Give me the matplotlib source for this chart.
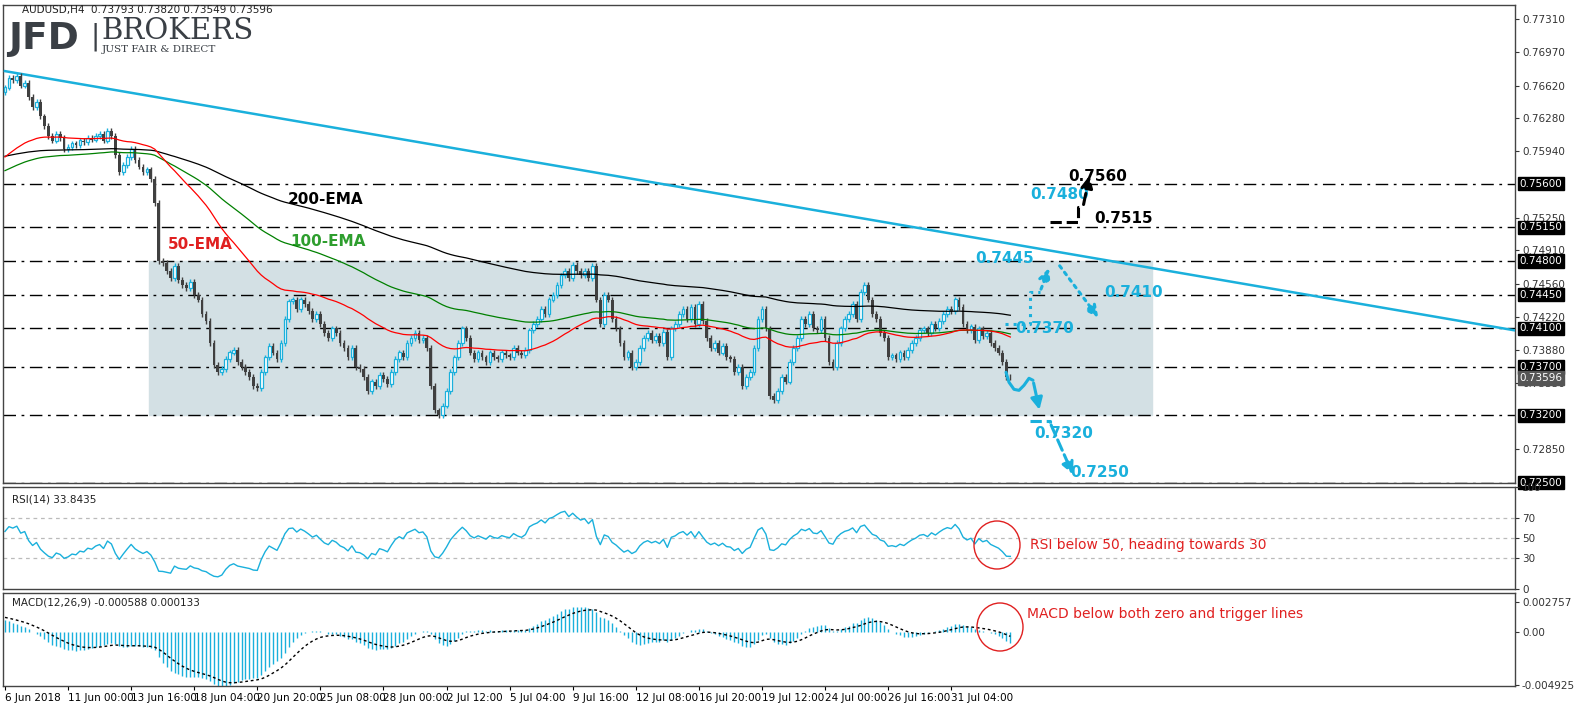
import numpy as np
import pandas as pd
import matplotlib
matplotlib.use("Agg")
import matplotlib.pyplot as plt
from matplotlib.patches import Ellipse, Rectangle
from matplotlib.transforms import blended_transform_factory as btf

closes = [
0.7660,0.7670,0.7668,0.7672,0.7662,0.7665,0.7650,0.7640,0.7645,0.7630,0.7620,0.7610,0.7605,0.7612,0.7608,0.7596,
0.7598,0.7602,0.7600,0.7605,0.7603,0.7608,0.7606,0.7610,0.7612,0.7605,0.7615,0.7610,0.7590,0.7572,0.7580,0.7588,
0.7596,0.7585,0.7578,0.7572,0.7575,0.7565,0.7540,0.7480,0.7478,0.7470,0.7462,0.7475,0.7460,0.7455,0.7452,0.7458,
0.7445,0.7440,0.7425,0.7418,0.7395,0.7372,0.7365,0.7368,0.7378,0.7385,0.7388,0.7375,0.7370,0.7365,0.7360,0.7350,
0.7348,0.7365,0.7380,0.7392,0.7385,0.7378,0.7395,0.7420,0.7438,0.7440,0.7430,0.7440,0.7435,0.7428,0.7420,0.7425,
0.7415,0.7405,0.7400,0.7410,0.7405,0.7395,0.7390,0.7380,0.7390,0.7370,0.7368,0.7360,0.7345,0.7355,0.7350,0.7362,
0.7358,0.7352,0.7365,0.7378,0.7385,0.7380,0.7395,0.7400,0.7405,0.7398,0.7400,0.7390,0.7350,0.7325,0.7320,0.7330,
0.7345,0.7365,0.7380,0.7395,0.7410,0.7400,0.7385,0.7378,0.7385,0.7380,0.7375,0.7385,0.7380,0.7378,0.7385,0.7382,
0.7380,0.7390,0.7385,0.7382,0.7388,0.7408,0.7415,0.7420,0.7430,0.7425,0.7440,0.7445,0.7455,0.7465,0.7470,0.7462,
0.7476,0.7470,0.7465,0.7470,0.7462,0.7475,0.7440,0.7415,0.7445,0.7440,0.7420,0.7410,0.7395,0.7380,0.7385,0.7370,
0.7375,0.7390,0.7400,0.7405,0.7398,0.7402,0.7395,0.7406,0.7380,0.7410,0.7415,0.7425,0.7430,0.7420,0.7432,0.7415,
0.7435,0.7418,0.7400,0.7390,0.7395,0.7385,0.7392,0.7380,0.7378,0.7365,0.7370,0.7350,0.7360,0.7365,0.7390,0.7420,
0.7430,0.7410,0.7340,0.7336,0.7345,0.7360,0.7355,0.7375,0.7390,0.7400,0.7420,0.7415,0.7425,0.7410,0.7408,0.7420,
0.7400,0.7375,0.7370,0.7395,0.7410,0.7420,0.7425,0.7435,0.7420,0.7448,0.7455,0.7440,0.7425,0.7420,0.7405,0.7400,
0.7380,0.7382,0.7378,0.7385,0.7380,0.7388,0.7395,0.7400,0.7408,0.7410,0.7405,0.7415,0.7410,0.7418,0.7425,0.7430,
0.7428,0.7440,0.7432,0.7415,0.7408,0.7412,0.7398,0.7410,0.7402,0.7405,0.7395,0.7390,0.7385,0.7375,0.7360,0.73596]
first_open = 0.7655
wick = 0.0003
ema_seeds = {50: 0.7585, 100: 0.7572, 200: 0.7588}
macd_seeds = {"ema12": 0.7682, "ema26": 0.7668, "signal": 0.0014}
rsi_seeds = {"up": 0.00035, "down": 0.00030}
levels = [0.7560, 0.7515, 0.7480, 0.7445, 0.7410, 0.7370, 0.7320, 0.7250]
plain_ticks = [0.77310,0.76970,0.76620,0.76280,0.75940,0.75250,0.74910,0.74560,0.74220,0.73880,0.73530,0.72850]
date_labels = ["6 Jun 2018","11 Jun 00:00","13 Jun 16:00","18 Jun 04:00","20 Jun 20:00","25 Jun 08:00",
               "28 Jun 00:00","2 Jul 12:00","5 Jul 04:00","9 Jul 16:00","12 Jul 08:00","16 Jul 20:00",
               "19 Jul 12:00","24 Jul 00:00","26 Jul 16:00","31 Jul 04:00"]
trend = [(0, 0.7677), (383, 0.7408)]
range_box = (36.5, 291, 0.7320, 0.7480)

c = np.array(closes)
o = np.concatenate([[first_open], c[:-1]])
h = np.maximum(o, c) + wick
l = np.minimum(o, c) - wick
x = np.arange(len(c))

def ema(vals, n, seed):
    a = 2 / (n + 1); out = []; e = seed
    for v in vals:
        e = a * v + (1 - a) * e; out.append(e)
    return np.array(out)

def wilder(vals, seed):
    out = []; e = seed
    for v in vals:
        e = e + (v - e) / 14; out.append(e)
    return np.array(out)

d = np.diff(np.concatenate([[first_open], c]))
up = wilder(np.clip(d, 0, None), rsi_seeds["up"])
dn = wilder(np.clip(-d, 0, None), rsi_seeds["down"])
rsi = 100 - 100 / (1 + up / dn)
macd = ema(c, 12, macd_seeds["ema12"]) - ema(c, 26, macd_seeds["ema26"])
signal = ema(macd, 9, macd_seeds["signal"])

W, H = 1583, 705
fig = plt.figure(figsize=(W/100, H/100), dpi=100)
L, R = 3/W, 1512/W
ax = fig.add_axes([L, 1-483/H, R, 478/H])
ax_r = fig.add_axes([L, 1-589/H, R, 102/H])
ax_m = fig.add_axes([L, 1-686/H, R, 93/H])
XL = (-0.5, 383)
PPB = 1512 / (XL[1] - XL[0])
BLUE = "#1ab0dc"; GREY = "#404040"
for a in (ax, ax_r, ax_m):
    a.set_xlim(*XL)
    a.yaxis.tick_right()
    a.tick_params(axis="y", labelsize=7.5, length=3, colors="#333333", pad=2)
    a.set_xticks([])
    for sp in a.spines.values():
        sp.set_color("#444444"); sp.set_linewidth(1)

ax.set_ylim(0.72497, 0.77456)
ax.add_patch(Rectangle((range_box[0], range_box[2]), range_box[1]-range_box[0],
                       range_box[3]-range_box[2], color="#d3e0e4", zorder=0))
for lv in levels:
    ax.axhline(lv, color="black", lw=1, ls=(0, (9, 4, 2, 4)), zorder=1)
ax.plot([p[0] for p in trend], [p[1] for p in trend], color=BLUE, lw=1.8, zorder=3)
bull = c >= o
ax.vlines(x[bull], l[bull], h[bull], color=BLUE, lw=1, zorder=4)
ax.vlines(x[~bull], l[~bull], h[~bull], color=GREY, lw=1, zorder=4)
ax.bar(x[bull], (c-o)[bull] + 1e-5, bottom=o[bull], width=0.7, facecolor="white", edgecolor=BLUE, lw=0.9, zorder=5)
ax.bar(x[~bull], (o-c)[~bull], bottom=c[~bull], width=0.7, color=GREY, zorder=5)
ax.plot(x, ema(c, 200, ema_seeds[200]), color="black", lw=0.9, zorder=6)
ax.plot(x, ema(c, 100, ema_seeds[100]), color="green", lw=0.9, zorder=6)
ax.plot(x, ema(c, 50, ema_seeds[50]), color="red", lw=0.9, zorder=6)
ax.set_yticks(plain_ticks)
ax.set_yticklabels([f"{t:.5f}" for t in plain_ticks])
tr = btf(ax.transAxes, ax.transData)
for lv in levels:
    ax.text(1.003, lv, f"{lv:.5f}", transform=tr, fontsize=7.5, color="white", va="center", ha="left",
            bbox=dict(boxstyle="square,pad=0.15", fc="black", ec="black"))
ax.text(1.003, closes[-1] - 0.0001, f"{closes[-1]:.5f}", transform=tr, fontsize=7.5, color="white", va="center", ha="left",
        bbox=dict(boxstyle="square,pad=0.15", fc="#555555", ec="#555555"))

def px(xp, yp):
    return ((xp-3)/PPB + XL[0], 0.7731-(yp-19)/9580)

ax.text(*px(288, 198), "200-EMA", color="black", fontsize=11, fontweight="bold", va="center")
ax.text(*px(290, 240), "100-EMA", color="#2e9e2e", fontsize=11, fontweight="bold", va="center")
ax.text(*px(168, 243), "50-EMA", color="#e02020", fontsize=11, fontweight="bold", va="center")
for t, (xp, yp), col in [("0.7560", (1068, 175), "black"), ("0.7515", (1094, 217), "black"),
                          ("0.7480", (1030, 193), BLUE), ("0.7445", (975, 257), BLUE),
                          ("0.7410", (1104, 291), BLUE), ("0.7370", (1015, 327), BLUE),
                          ("0.7320", (1034, 431), BLUE), ("0.7250", (1070, 470), BLUE)]:
    ax.text(*px(xp, yp), t, color=col, fontsize=11, fontweight="bold", va="center")

def seg(pts, col, ls):
    P = [px(*p) for p in pts]
    ax.plot([p[0] for p in P[:-1]], [p[1] for p in P[:-1]], color=col, lw=2.2, ls=ls, zorder=7)
    ax.annotate("", xy=P[-1], xytext=P[-2], zorder=7,
                arrowprops=dict(arrowstyle="-|>,head_width=0.35,head_length=0.7", color=col, lw=2.2, ls=ls))
seg([(1005, 322), (1030, 322), (1030, 290), (1040, 290), (1050, 264)], BLUE, ":")
seg([(1058, 262), (1100, 318)], BLUE, ":")
seg([(1050, 221), (1078, 221), (1078, 206), (1083, 206), (1090, 172)], "black", "--")
seg([(1030, 418), (1050, 418), (1050, 420), (1074, 474)], BLUE, "--")
wave = [(1006, 370), (1009, 380), (1014, 387), (1019, 388), (1024, 383), (1029, 376), (1033, 378)]
P = [px(a_, b_) for a_, b_ in wave]
ax.plot([p[0] for p in P], [p[1] for p in P], color=BLUE, lw=2.2, zorder=7, solid_capstyle="round")
ax.annotate("", xy=px(1040, 410), xytext=px(1033, 378),
            arrowprops=dict(arrowstyle="-|>,head_width=0.35,head_length=0.7", color=BLUE, lw=2.2))

ax_r.set_ylim(0, 100)
for lv in (70, 50, 30):
    ax_r.axhline(lv, color="#bbbbbb", lw=0.9, ls=(0, (3, 3)))
ax_r.plot(x, rsi, color=BLUE, lw=1)
ax_r.set_yticks([0, 30, 50, 70, 100])
ax_r.text(0.006, 0.93, "RSI(14) 33.8435", transform=ax_r.transAxes, fontsize=7.5, va="top", color="#222222")

ax_m.set_ylim(-0.005, 0.0036)
ax_m.vlines(x, 0, macd, color=BLUE, lw=1)
ax_m.plot(x, signal, color="black", lw=1, ls=(0, (2, 2)))
ax_m.set_yticks([-0.004925, 0.0, 0.002757])
ax_m.set_yticklabels(["-0.004925", "0.00", "0.002757"])
ax_m.text(0.006, 0.95, "MACD(12,26,9) -0.000588 0.000133", transform=ax_m.transAxes, fontsize=7.5, va="top", color="#222222")
ax_m.set_xticks(np.arange(len(date_labels)) * 16)
ax_m.set_xticklabels(date_labels, ha="left", fontsize=7.5)
ax_m.tick_params(axis="x", length=3, pad=2)

for (cx, cy, tx, ty, t) in [(997, 545, 1030, 545, "RSI below 50, heading towards 30"),
                            (1000, 627, 1027, 614, "MACD below both zero and trigger lines")]:
    fig.add_artist(Ellipse((cx, H-cy), 46, 48, transform=None, fill=False, ec="#e02020", lw=1))
    fig.text(tx/W, 1-ty/H, t, color="#e02020", fontsize=10, va="center")

fig.text(22/W, 1-10/H, "AUDUSD,H4  0.73793 0.73820 0.73549 0.73596", fontsize=7.5, va="center", color="#222222")
fig.text(8/W, 1-39/H, "JFD", fontsize=27, fontweight="bold", color="#3a3f45", va="center")
fig.text(90/W, 1-37/H, "|", fontsize=20, color="#3a3f45", va="center")
fig.text(101/W, 1-31/H, "BROKERS", fontsize=21, family="DejaVu Serif", color="#3a3f45", va="center")
fig.text(102/W, 1-49/H, "JUST FAIR & DIRECT", fontsize=7.5, family="DejaVu Serif", color="#3a3f45", va="center")

fig.savefig("out.png", dpi=100)
